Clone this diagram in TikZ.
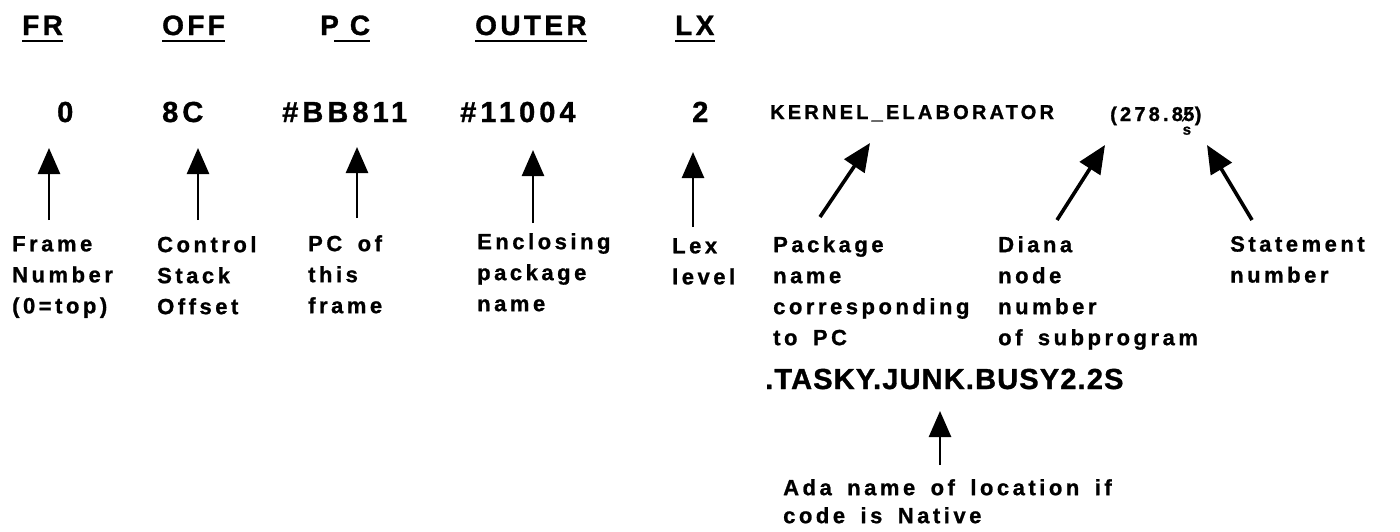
\documentclass[tikz,border=0pt]{standalone}
\usepackage{fontspec}
\setmainfont{Liberation Sans}
\usetikzlibrary{arrows.meta}
\newfontfamily\hdrfam{Liberation Sans}[UprightFont={* Bold},LetterSpace=12,FakeBold=1.2]
\newfontfamily\valfam{Liberation Sans}[UprightFont={* Bold},LetterSpace=14,FakeBold=1.2]
\newfontfamily\kerfam{Liberation Sans}[UprightFont={* Bold},LetterSpace=16,FakeBold=1.2]
\newfontfamily\lblfam{Liberation Sans}[UprightFont={* Bold},LetterSpace=16,WordSpace=1.6,FakeBold=1]
\newfontfamily\tskfam{Liberation Sans}[UprightFont={* Bold},LetterSpace=4,FakeBold=1.2]
\newfontfamily\bfam{Liberation Sans}[UprightFont={* Bold},FakeBold=1]
\begin{document}
\begin{tikzpicture}[x=1pt,y=-1pt,
  hd/.style={anchor=base west,inner sep=0pt,font={\hdrfam\fontsize{28}{30}\selectfont}},
  val/.style={anchor=base west,inner sep=0pt,font={\valfam\fontsize{29}{31}\selectfont}},
  ker/.style={anchor=base west,inner sep=0pt,font={\kerfam\fontsize{20}{22}\selectfont}},
  lbl/.style={anchor=north west,inner sep=0pt,align=left,font={\lblfam\fontsize{22}{31}\selectfont}},
  tsk/.style={anchor=base west,inner sep=0pt,font={\tskfam\fontsize{29}{31}\selectfont}},
  arr/.style={line width=2.6pt,-{Triangle[length=26pt,width=22pt]}},
  darr/.style={line width=3.6pt,-{Triangle[length=28pt,width=24pt]}},
  ul/.style={line width=2.8pt}]
\useasboundingbox (0,0) rectangle (1400,531);
% header
\node[hd] (fr) at (22,35) {FR};
\node[hd] (off) at (162,35) {OFF};
\node[hd] (pc) at (320,35) {P\hspace{11pt}C};
\node[hd] (outer) at (475,35) {OUTER};
\node[hd] (lx) at (675,35) {LX};
\foreach \n in {fr,off,outer,lx}
  \draw[ul] ([yshift=-6pt]\n.base west) -- ([yshift=-6pt]\n.base east);
\draw[ul] ([xshift=14pt,yshift=-6pt]pc.base west) -- ([yshift=-6pt]pc.base east);
% values
\node[val] (v0) at (57,122) {0};
\node[val] (v8c) at (162,122) {8C};
\node[val] (vbb) at (282,122) {\#BB811};
\node[val] (v11) at (460,122) {\#11004};
\node[val] (v2) at (692,122) {2};
\node[ker] (kern) at (770,119) {KERNEL\_ELABORATOR};
\node[ker] (n1) at (1110,121) {(278.8};
\node[ker] (n5) at (n1.base east) {5};
\node[ker] (n6) at (n5.base east) {)};
\draw[line width=1.4pt] ([xshift=-1pt]n5.south west) -- ([xshift=-3pt,yshift=-2pt]n5.north east);
\node[anchor=north,inner sep=0pt,font={\bfam\fontsize{15}{16}\selectfont}] (ns) at ([xshift=-2pt,yshift=-5pt]n5.south) {s};
% vertical arrows
\coordinate (a1b) at (49,220);  \coordinate (a1t) at (49,148);
\coordinate (a2b) at (198,220); \coordinate (a2t) at (198,148);
\coordinate (a3b) at (357,218); \coordinate (a3t) at (357,147);
\coordinate (a4b) at (533,223); \coordinate (a4t) at (533,150);
\coordinate (a5b) at (693,227); \coordinate (a5t) at (693,152);
\foreach \i in {1,...,5} \draw[arr] (a\i b) -- (a\i t);
% diagonal arrows
\coordinate (d1b) at (820,217);  \coordinate (d1t) at (870,143);
\coordinate (d2b) at (1057,220); \coordinate (d2t) at (1105,145);
\coordinate (d3b) at (1252,220); \coordinate (d3t) at (1207,145);
\foreach \i in {1,2,3} \draw[darr] (d\i b) -- (d\i t);
% labels
\node[lbl] (lfr) at (12,236) {Frame\\Number\\(0=top)};
\node[lbl] (loff) at (157,236) {Control\\Stack\\Offset};
\node[lbl] (lpc) at (308,235) {PC of\\this\\frame};
\node[lbl] (lout) at (477,233) {Enclosing\\package\\name};
\node[lbl] (llx) at (672,238) {Lex\\level};
\node[lbl] (lpkg) at (773,236) {Package\\name\\corresponding\\to PC};
\node[lbl] (ldia) at (998,236) {Diana\\node\\number\\of subprogram};
\node[lbl] (lst) at (1230,236) {Statement\\number};
% Ada name
\node[tsk] (tasky) at (765,389) {.TASKY.JUNK.BUSY2.2S};
\coordinate (a6b) at (940,465); \coordinate (a6t) at (940,411);
\draw[arr] (a6b) -- (a6t);
\node[lbl,font={\lblfam\fontsize{22}{28}\selectfont}] (lada) at (783,479) {Ada name of location if\\code is Native};
\end{tikzpicture}
\end{document}
